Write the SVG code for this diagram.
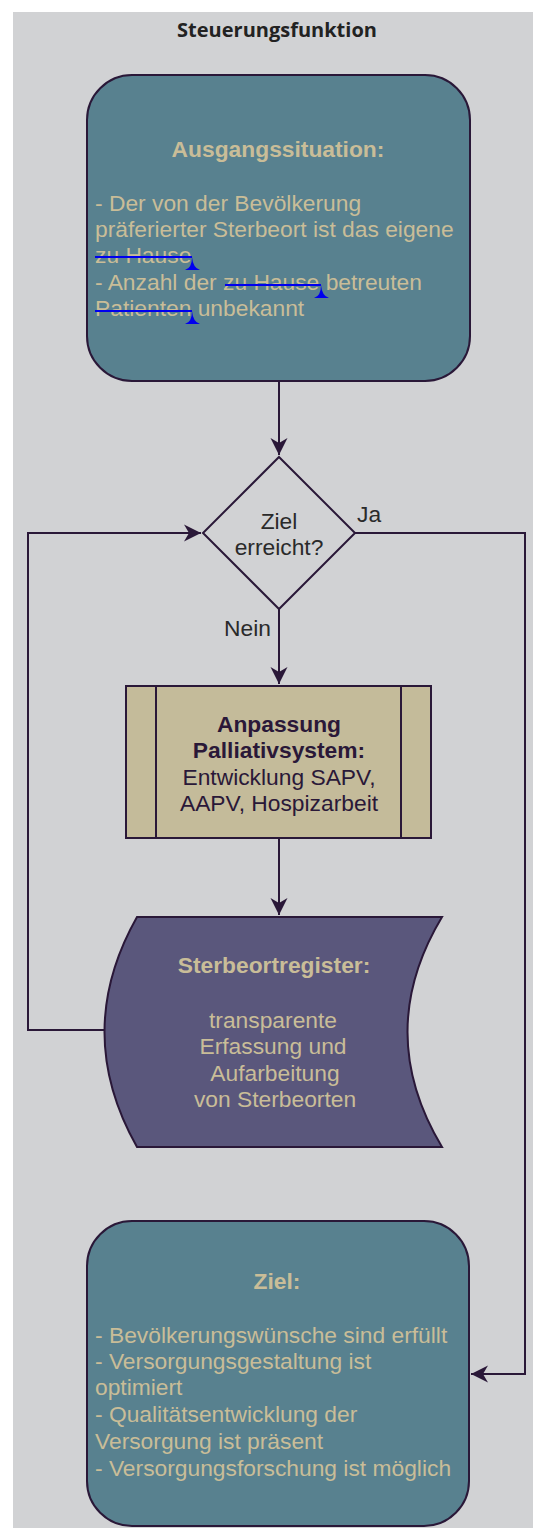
<svg xmlns="http://www.w3.org/2000/svg" width="533" height="1528" viewBox="0 0 533 1528">
<style>
.node{stroke:#2a1838;stroke-width:2}
.edge{fill:none;stroke:#2a1838;stroke-width:2}
.t{font-family:"Liberation Sans",Arial,sans-serif;font-size:22.8px}
.b{font-weight:bold}
.light{fill:#c9bd98}
.dark{fill:#2a2a2a}
.purple{fill:#2a1838}
.mark{fill:none;stroke:#0000ee;stroke-width:2}
.tack{fill:#0000ee}
</style>
<defs>
<marker id="arr" markerUnits="userSpaceOnUse" markerWidth="20" markerHeight="20" viewBox="-18 -10 20 20" refX="0" refY="0" orient="auto">
<path d="M0,0 L-17,-8.5 L-12,0 L-17,8.5 Z" fill="#2a1838"/>
</marker>
</defs>
<rect x="13" y="12" width="520" height="1516" fill="#d1d2d4"/>
<text x="277" y="37" text-anchor="middle" style="font-family:'Open Sans','Noto Sans',sans-serif;font-size:20px;font-weight:bold" fill="#222">Steuerungsfunktion</text>
<g id="connectors">
<path class="edge" d="M279,381 L279,455" marker-end="url(#arr)"/>
<path class="edge" d="M279,609 L279,684" marker-end="url(#arr)"/>
<path class="edge" d="M279,838 L279,915" marker-end="url(#arr)"/>
<path class="edge" d="M105,1030 L28,1030 L28,533 L201,533" marker-end="url(#arr)"/>
<path class="edge" d="M355,533 L525,533 L525,1374 L471,1374" marker-end="url(#arr)"/>
<text class="t dark" x="357" y="522">Ja</text>
<text class="t dark" x="224" y="636">Nein</text>
</g>
<g id="start">
<rect class="node" x="87" y="75" width="383" height="306" rx="45" ry="45" fill="#58818f"/>
<text class="t b light" x="278" y="157" text-anchor="middle">Ausgangssituation:</text>
<text class="t light" x="95" y="211">- Der von der Bevölkerung</text>
<text class="t light" x="95" y="237">präferierter Sterbeort ist das eigene</text>
<text class="t light" x="95" y="263">zu Hause</text>
<text class="t light" x="95" y="290">- Anzahl der zu Hause betreuten</text>
<text class="t light" x="95" y="316">Patienten unbekannt</text>
<path class="mark" d="M95,257 L192,257 M225,285 L321,285 M95,311 L192,311"/>
<path class="tack" d="M192,257 Q192,268 185,270 L200,270 Q193,268 192,257 Z"/>
<path class="tack" d="M321,285 Q321,296 314,298 L329,298 Q322,296 321,285 Z"/>
<path class="tack" d="M192,311 Q192,322 185,324 L200,324 Q193,322 192,311 Z"/>
</g>
<g id="decision">
<path class="node" d="M279,457 L355,533 L279,609 L203,533 Z" fill="#d1d2d4"/>
<text class="t dark" x="279" y="529" text-anchor="middle">Ziel</text>
<text class="t dark" x="279" y="555" text-anchor="middle">erreicht?</text>
</g>
<g id="process">
<rect class="node" x="126" y="686" width="305" height="152" fill="#c4bb9a"/>
<path class="node" d="M156,686 L156,838 M401,686 L401,838" fill="none"/>
<text class="t b purple" x="279" y="732" text-anchor="middle">Anpassung</text>
<text class="t b purple" x="279" y="758" text-anchor="middle">Palliativsystem:</text>
<text class="t purple" x="279" y="785" text-anchor="middle">Entwicklung SAPV,</text>
<text class="t purple" x="279" y="811" text-anchor="middle">AAPV, Hospizarbeit</text>
</g>
<g id="register">
<path class="node" d="M137,917 L442,917 Q373,1032 442,1147 L137,1147 Q72,1032 137,917 Z" fill="#5a577c"/>
<text class="t b light" x="274" y="973" text-anchor="middle">Sterbeortregister:</text>
<text class="t light" x="273" y="1028" text-anchor="middle">transparente</text>
<text class="t light" x="273" y="1054" text-anchor="middle">Erfassung und</text>
<text class="t light" x="275" y="1081" text-anchor="middle">Aufarbeitung</text>
<text class="t light" x="275" y="1107" text-anchor="middle">von Sterbeorten</text>
</g>
<g id="goal">
<rect class="node" x="87" y="1221" width="382" height="305" rx="45" ry="45" fill="#58818f"/>
<text class="t b light" x="277" y="1289" text-anchor="middle">Ziel:</text>
<text class="t light" x="95" y="1343">- Bevölkerungswünsche sind erfüllt</text>
<text class="t light" x="95" y="1369">- Versorgungsgestaltung ist</text>
<text class="t light" x="95" y="1395">optimiert</text>
<text class="t light" x="95" y="1422">- Qualitätsentwicklung der</text>
<text class="t light" x="95" y="1449">Versorgung ist präsent</text>
<text class="t light" x="95" y="1476">- Versorgungsforschung ist möglich</text>
</g>
</svg>
